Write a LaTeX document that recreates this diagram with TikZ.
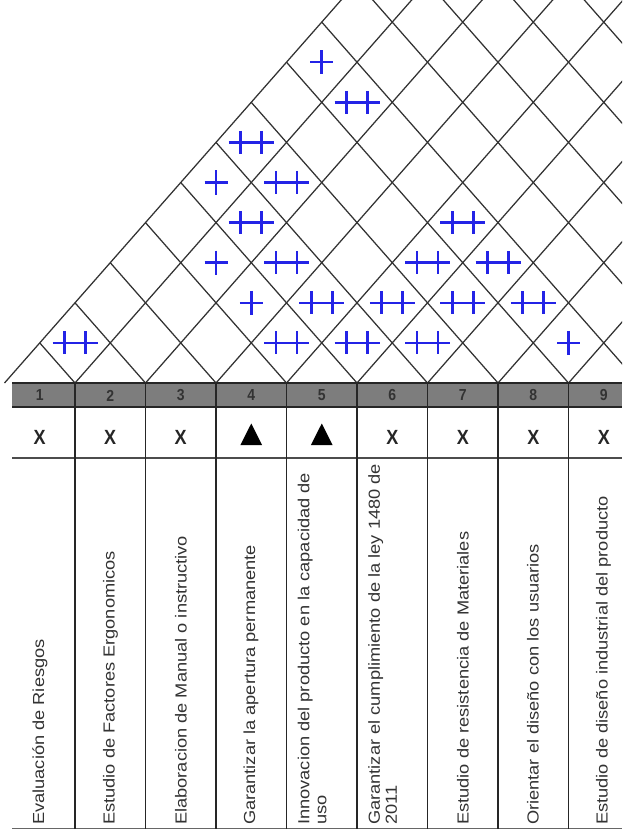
\documentclass[tikz,border=0pt]{standalone}
\usepackage{fontspec}
\setmainfont{Liberation Sans}
\usepackage{graphicx}
\definecolor{bandgray}{RGB}{125,125,125}
\definecolor{plusblue}{RGB}{35,35,230}
\definecolor{gridline}{RGB}{50,50,50}
\begin{document}
\begin{tikzpicture}[x=1pt,y=-1pt,
  roofline/.style={gridline, line width=1.25pt},
  tabline/.style={black!85, line width=1.3pt},
  bluemark/.style={plusblue, line width=2.6pt},
  singleplus/.pic={\draw[bluemark] (-11.5,0) -- (11.5,0) (0,-12) -- (0,12);},
  doubleplus/.pic={\draw[bluemark] (-22.5,0) -- (22.5,0) (-10.5,-11.5) -- (-10.5,11.5) (10.5,-11.5) -- (10.5,11.5);},
  numtext/.style={font=\fontsize{14}{16}\selectfont\bfseries, text=black!80, inner sep=0},
  xmark/.style={font=\fontsize{18}{20}\selectfont\bfseries, text=black!85, inner sep=0},
  coltext/.style={rotate=90, anchor=west, inner sep=0, text=black!80, font=\fontsize{16}{17}\selectfont}
]
\useasboundingbox (0,0) rectangle (622,829);
\fill[white] (0,0) rectangle (622,829);
\begin{scope}
  \clip (0,0) rectangle (622,829);
  % roof
  \begin{scope}
    \clip (0,0) rectangle (622,383);
    \foreach \k in {0,...,9} \draw[roofline] ({4.5+70.5*\k},383) -- ++(352.5,-401);
    \foreach \k in {1,...,14} \draw[roofline] ({4.5+70.5*\k},383) -- ++({-35.25*\k},{-40.1*\k});
  \end{scope}
  % correlation marks: {row/col/type}
  \foreach \r/\i/\t in {1/1/doubleplus,1/4/doubleplus,1/5/doubleplus,1/6/doubleplus,1/8/singleplus,
      2/3/singleplus,2/4/doubleplus,2/5/doubleplus,2/6/doubleplus,2/7/doubleplus,
      3/2/singleplus,3/3/doubleplus,3/5/doubleplus,3/6/doubleplus,
      4/2/doubleplus,4/5/doubleplus,
      5/1/singleplus,5/2/doubleplus,
      6/1/doubleplus,
      7/2/doubleplus,
      8/1/singleplus}
    \pic at ({39.75+70.5*(\i-1)+35.25*\r},{383-40.1*\r}) {\t};
  % table
  \fill[bandgray] (12,383) rectangle (622,407);
  \draw[tabline] (12,383) -- (622,383);
  \draw[tabline] (12,407) -- (622,407);
  \draw[black!70, line width=1.8pt] (12,458) -- (622,458);
  \draw[black!60, line width=1pt] (12,828.5) -- (622,828.5);
  \foreach \k in {1,...,8} \draw[tabline] ({4.5+70.5*\k},383) -- ({4.5+70.5*\k},829);
  % numbers
  \foreach \i in {1,...,9}
    \node[numtext] (n\i) at ({39.75+70.5*(\i-1)},395.5) {\scalebox{1}[1.14]{\i}};
  % X marks and triangles
  \foreach \i in {1,2,3,6,7,8,9}
    \node[xmark] (x\i) at ({39.75+70.5*(\i-1)},437.5) {\scalebox{1}[1.14]{X}};
  \foreach \i in {4,5}
    \fill[black] ({39.75+70.5*(\i-1)-10.8},445) -- ({39.75+70.5*(\i-1)+10.8},445) -- ({39.75+70.5*(\i-1)},423.5) -- cycle;
  % column texts
  \node[coltext] (t1) at (40,825) {\scalebox{1.14}[1]{Evaluación de Riesgos}};
  \node[coltext] (t2) at (110.5,825) {\scalebox{1.14}[1]{Estudio de Factores Ergonomicos}};
  \node[coltext] (t3) at (181,825) {\scalebox{1.14}[1]{Elaboracion de Manual o instructivo}};
  \node[coltext] (t4) at (251,825) {\scalebox{1.14}[1]{Garantizar la apertura permanente}};
  \node[coltext] (t5) at (314.5,825) {\scalebox{1.14}[1]{\begin{tabular}{@{}l@{}}Innovacion del producto en la capacidad de\\uso\end{tabular}}};
  \node[coltext] (t6) at (385,825) {\scalebox{1.14}[1]{\begin{tabular}{@{}l@{}}Garantizar el cumplimiento de la ley 1480 de\\2011\end{tabular}}};
  \node[coltext] (t7) at (463,825) {\scalebox{1.14}[1]{Estudio de resistencia de Materiales}};
  \node[coltext] (t8) at (533,825) {\scalebox{1.14}[1]{Orientar el diseño con los usuarios}};
  \node[coltext] (t9) at (603.5,825) {\scalebox{1.14}[1]{Estudio de diseño industrial del producto}};
\end{scope}
\end{tikzpicture}
\end{document}
